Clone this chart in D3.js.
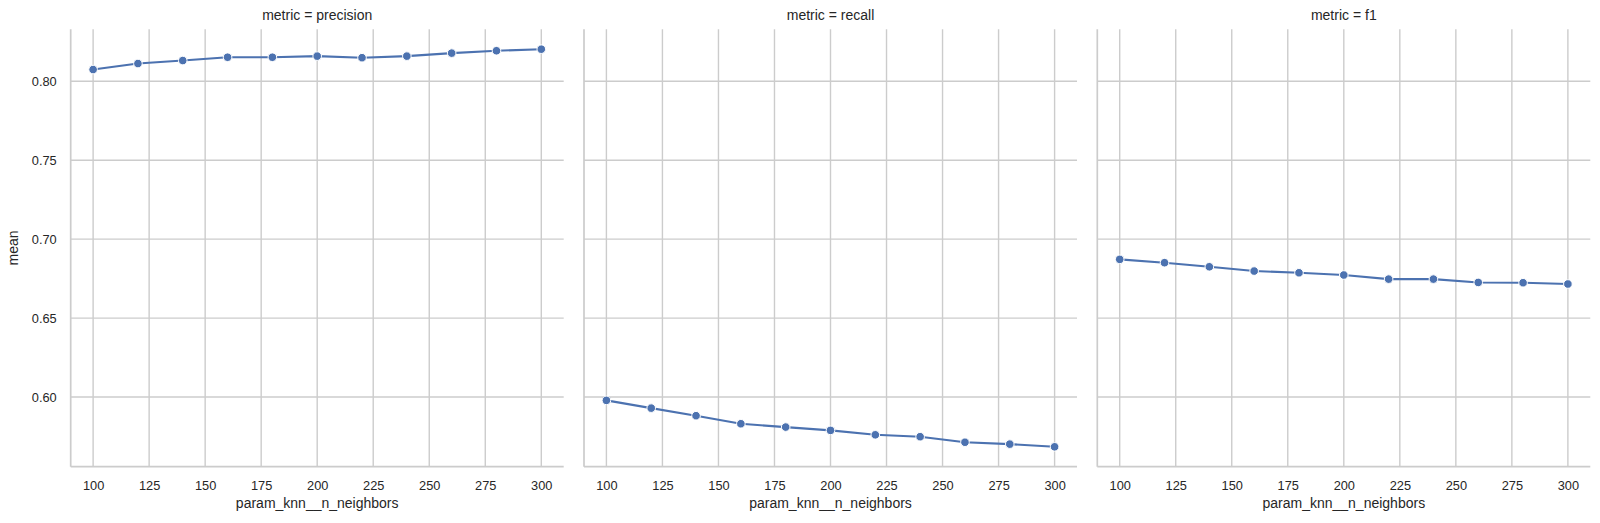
<!DOCTYPE html>
<html>
<head>
<meta charset="utf-8">
<script src="https://cdn.jsdelivr.net/npm/d3@7"></script>
<style>
    body { margin: 0; background: #fff; }
    text { font-family: "Liberation Sans", Arial, sans-serif; fill: #262626; }
</style>
</head>
<body>
<svg id="chart"></svg>
<script>
// values
const neighbors = [100, 120, 140, 160, 180, 200, 220, 240, 260, 280, 300];
const metrics = ["precision", "recall", "f1"];
const precisionMean = [0.8074, 0.8112, 0.8131, 0.8152, 0.8152, 0.8159, 0.8149, 0.8159, 0.8178, 0.8193, 0.8203];
const recallMean = [0.5979, 0.5930, 0.5882, 0.5831, 0.5810, 0.5789, 0.5761, 0.5749, 0.5714, 0.5702, 0.5685];
const f1Mean = [0.6872, 0.6851, 0.6825, 0.6798, 0.6787, 0.6773, 0.6747, 0.6747, 0.6726, 0.6724, 0.6716];
const xTicks = [100, 125, 150, 175, 200, 225, 250, 275, 300];
const yTicks = [0.60, 0.65, 0.70, 0.75, 0.80];

const seriesByMetric = {precision: precisionMean, recall: recallMean, f1: f1Mean};

class FacetLinePlot {
    constructor(_config) {
        this.config = {
            parentElement: _config.parentElement,
            containerWidth: _config.containerWidth || 1600,
            containerHeight: _config.containerHeight || 523,
            margin: _config.margin || {top: 29.3, left: 70.7},
            panelWidth: 493,
            panelHeight: 437.4,
            panelGap: 20.3,
            color: "#4c72b0",
            gridColor: "#cccccc"
        };
        this.initVis();
    }

    initVis() {
        let vis = this;

        vis.svg = d3.select(vis.config.parentElement)
            .attr("width", vis.config.containerWidth)
            .attr("height", vis.config.containerHeight);

        // shared scales like sharex/sharey in a facet grid, 5% padding each side
        const allValues = [].concat(precisionMean, recallMean, f1Mean);
        const [yMin, yMax] = d3.extent(allValues);
        const yPad = (yMax - yMin) * 0.05;
        const xPad = (d3.max(neighbors) - d3.min(neighbors)) * 0.05;

        vis.xScale = d3.scaleLinear()
            .domain([d3.min(neighbors) - xPad, d3.max(neighbors) + xPad])
            .range([0, vis.config.panelWidth]);
        vis.yScale = d3.scaleLinear()
            .domain([yMin - yPad, yMax + yPad])
            .range([vis.config.panelHeight, 0]);

        vis.renderVis();
    }

    renderVis() {
        let vis = this;
        const w = vis.config.panelWidth;
        const h = vis.config.panelHeight;

        metrics.forEach((metric, i) => {
            const values = seriesByMetric[metric];
            const left = vis.config.margin.left + i * (w + vis.config.panelGap);
            const g = vis.svg.append("g")
                .attr("transform", `translate(${left},${vis.config.margin.top})`);

            // grid
            g.append("g").selectAll("line")
                .data(xTicks)
                .join("line")
                .attr("x1", d => vis.xScale(d))
                .attr("x2", d => vis.xScale(d))
                .attr("y1", 0)
                .attr("y2", h)
                .attr("stroke", vis.config.gridColor)
                .attr("stroke-width", 1.4);

            g.append("g").selectAll("line")
                .data(yTicks)
                .join("line")
                .attr("x1", 0)
                .attr("x2", w)
                .attr("y1", d => vis.yScale(d))
                .attr("y2", d => vis.yScale(d))
                .attr("stroke", vis.config.gridColor)
                .attr("stroke-width", 1.4);

            // axes (ticks hidden, only labels)
            const xAxis = d3.axisBottom(vis.xScale)
                .tickValues(xTicks)
                .tickSize(0)
                .tickPadding(14);
            const xAxisG = g.append("g")
                .attr("transform", `translate(0,${h})`)
                .call(xAxis);
            xAxisG.select(".domain").remove();
            xAxisG.selectAll("text")
                .attr("font-size", 12.8)
                .attr("font-family", null)
                .attr("fill", "#262626");

            if (i === 0) {
                const yAxis = d3.axisLeft(vis.yScale)
                    .tickValues(yTicks)
                    .tickSize(0)
                    .tickPadding(14)
                    .tickFormat(d3.format(".2f"));
                const yAxisG = g.append("g").call(yAxis);
                yAxisG.select(".domain").remove();
                yAxisG.selectAll("text")
                    .attr("font-size", 12.8)
                    .attr("font-family", null)
                    .attr("fill", "#262626");

                g.append("text")
                    .attr("transform", `translate(${-53},${h / 2}) rotate(-90)`)
                    .attr("text-anchor", "middle")
                    .attr("font-size", 14)
                    .text("mean");
            }

            // spines: left and bottom
            g.append("line")
                .attr("x1", 0).attr("x2", 0)
                .attr("y1", 0).attr("y2", h)
                .attr("stroke", vis.config.gridColor)
                .attr("stroke-width", 1.7);
            g.append("line")
                .attr("x1", 0).attr("x2", w)
                .attr("y1", h).attr("y2", h)
                .attr("stroke", vis.config.gridColor)
                .attr("stroke-width", 1.7);

            g.append("text")
                .attr("x", w / 2)
                .attr("y", h + 41)
                .attr("text-anchor", "middle")
                .attr("font-size", 14)
                .text("param_knn__n_neighbors");

            g.append("text")
                .attr("x", w / 2)
                .attr("y", -9)
                .attr("text-anchor", "middle")
                .attr("font-size", 14)
                .text(`metric = ${metric}`);

            const pts = neighbors.map((n, j) => ({x: n, y: values[j]}));

            g.append("path")
                .datum(pts)
                .attr("fill", "none")
                .attr("stroke", vis.config.color)
                .attr("stroke-width", 2.1)
                .attr("d", d3.line()
                    .x(d => vis.xScale(d.x))
                    .y(d => vis.yScale(d.y)));

            g.append("g").selectAll("circle")
                .data(pts)
                .join("circle")
                .attr("cx", d => vis.xScale(d.x))
                .attr("cy", d => vis.yScale(d.y))
                .attr("r", 4.3)
                .attr("fill", vis.config.color)
                .attr("stroke", "#ffffff")
                .attr("stroke-width", 1);
        });
    }
}

new FacetLinePlot({parentElement: "#chart"});
</script>
</body>
</html>
